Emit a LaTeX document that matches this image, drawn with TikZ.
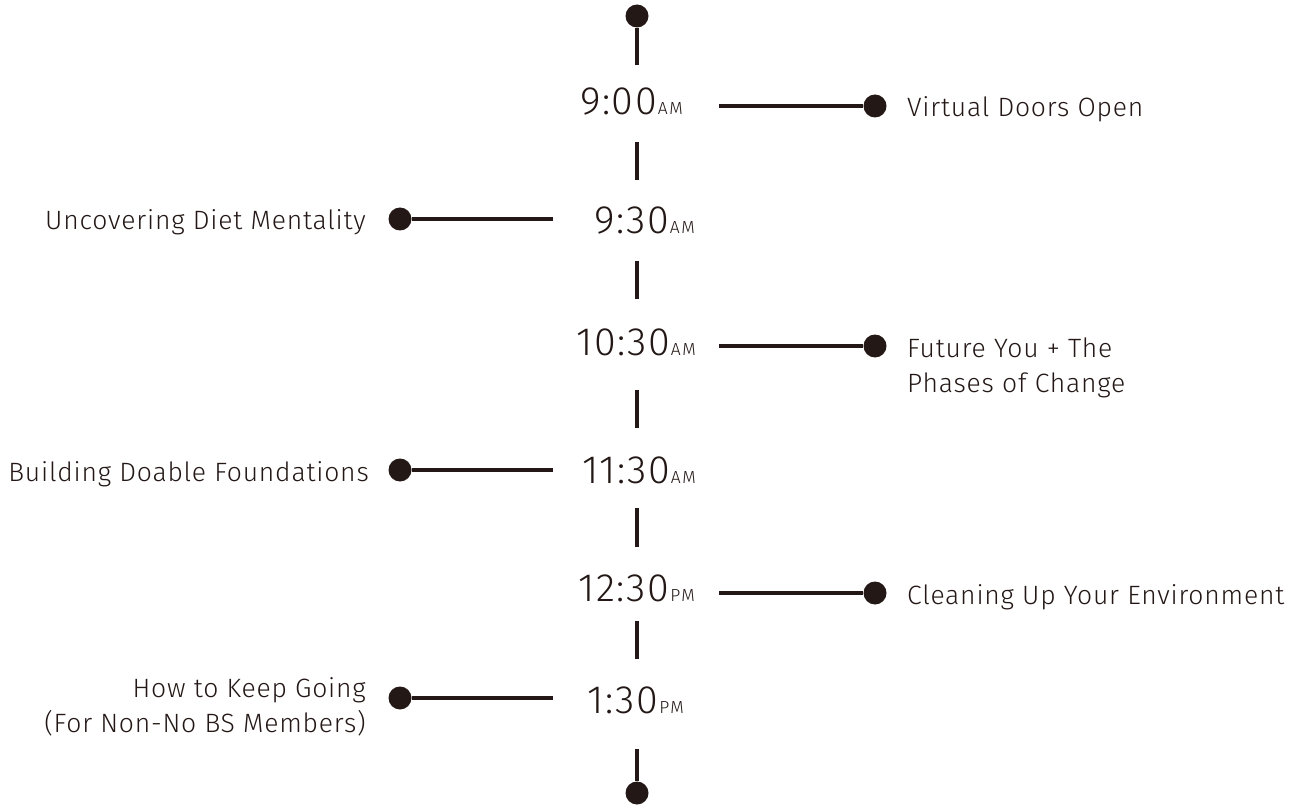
\documentclass[tikz,border=0pt]{standalone}
\usepackage{fontspec}
\newfontfamily\dinfont{Fira Sans Light}[LetterSpace=3]
\newfontfamily\dintime{Fira Sans Light}[LetterSpace=4]
\newfontfamily\dinsmall{Fira Sans Light}[LetterSpace=9]
\definecolor{ink}{HTML}{231815}
\begin{document}
\begin{tikzpicture}[x=1pt,y=-1pt,
  dot/.style={circle, fill=ink, inner sep=0pt, minimum size=23pt},
  link/.style={draw=ink, line width=3.3pt},
  timelbl/.style={anchor=base east, inner sep=0pt, text=ink},
  evtR/.style={anchor=base west, inner sep=0pt, text=ink, font=\dinfont\fontsize{26.5}{30}\selectfont},
  evtL/.style={anchor=base east, inner sep=0pt, text=ink, font=\dinfont\fontsize{26.5}{30}\selectfont}]
\newcommand{\tm}[2]{{\dintime\fontsize{39.5}{42}\selectfont #1}\hspace{1pt}{\dinsmall\fontsize{17.5}{20}\selectfont #2}}
\useasboundingbox (0,0) rectangle (1302,805);

% spine
\node[dot] (top) at (637,16) {};
\coordinate (a0) at (637,65);
\draw[link] (top) -- (a0);
\coordinate (a1) at (637,142); \coordinate (b1) at (637,180);
\coordinate (a2) at (637,261); \coordinate (b2) at (637,299);
\coordinate (a3) at (637,390); \coordinate (b3) at (637,428);
\coordinate (a4) at (637,508); \coordinate (b4) at (637,547);
\coordinate (a5) at (637,621); \coordinate (b5) at (637,659);
\draw[link] (a1) -- (b1);
\draw[link] (a2) -- (b2);
\draw[link] (a3) -- (b3);
\draw[link] (a4) -- (b4);
\draw[link] (a5) -- (b5);
\node[dot] (bot) at (637,793) {};
\coordinate (a6) at (637,749);
\draw[link] (a6) -- (bot);

% times
\node[timelbl] (t1) at (683,115) {\tm{9:00}{AM}};
\node[timelbl] (t2) at (695,234) {\tm{9:30}{AM}};
\node[timelbl] (t3) at (696,355) {\tm{10:30}{AM}};
\node[timelbl] (t4) at (696,483) {\tm{11:30}{AM}};
\node[timelbl] (t5) at (695,601) {\tm{12:30}{PM}};
\node[timelbl] (t6) at (684,713) {\tm{1:30}{PM}};

% right events
\node[dot] (d1) at (875,106) {};
\coordinate (s1) at (719,106);
\draw[link] (s1) -- (d1);
\node[evtR] (l1) at (907,117) {Virtual Doors Open};

\node[dot] (d3) at (875,346) {};
\coordinate (s3) at (719,346);
\draw[link] (s3) -- (d3);
\node[evtR] (l3a) at (907,357) {Future You + The};
\node[evtR] (l3b) at (907,392) {Phases of Change};

\node[dot] (d5) at (875,593) {};
\coordinate (s5) at (719,593);
\draw[link] (s5) -- (d5);
\node[evtR] (l5) at (907,604) {Cleaning Up Your Environment};

% left events
\node[dot] (d2) at (400,219) {};
\coordinate (s2) at (553,219);
\draw[link] (d2) -- (s2);
\node[evtL] (l2) at (366,230) {Uncovering Diet Mentality};

\node[dot] (d4) at (400,470) {};
\coordinate (s4) at (553,470);
\draw[link] (d4) -- (s4);
\node[evtL] (l4) at (369,481) {Building Doable Foundations};

\node[dot] (d6) at (400,698) {};
\coordinate (s6) at (553,698);
\draw[link] (d6) -- (s6);
\node[evtL] (l6a) at (366,697) {How to Keep Going};
\node[evtL] (l6b) at (366,732) {(For Non-No BS Members)};
\end{tikzpicture}
\end{document}
